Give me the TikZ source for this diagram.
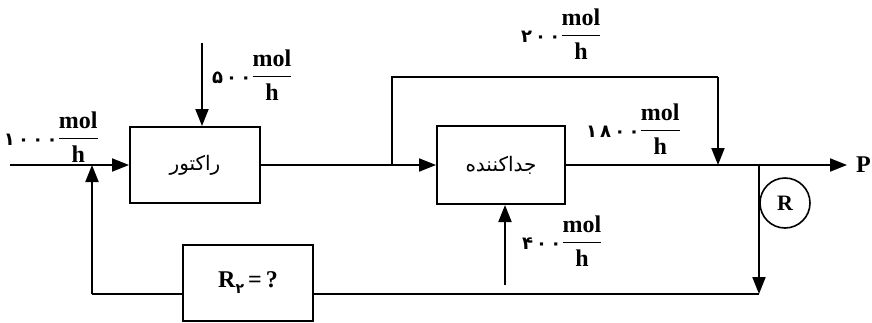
\documentclass[tikz,border=0pt]{standalone}
\usepackage{amsmath}
\usepackage{fontspec}
\setmainfont{Liberation Serif}
\newfontfamily\arabicfont[Script=Arabic]{DejaVu Sans}
\newfontfamily\digfont[Script=Arabic,LetterSpace=18]{DejaVu Sans}
\TeXXeTstate=1
\usetikzlibrary{arrows.meta}
\newcommand{\dig}[1]{{\digfont\fontsize{18}{20}\selectfont #1}}
\newcommand{\rate}[1]{\dig{#1}$\dfrac{\text{mol}}{\text{h}}$}
\begin{document}
\begin{tikzpicture}[x=1pt,y=-1pt,
  line width=2pt,
  blk/.style={draw, line width=2pt, inner sep=0pt},
  flow/.style={-{Triangle[length=17pt,width=13pt]}},
  lbl/.style={inner sep=0pt, font=\fontsize{24}{28}\bfseries\selectfont},
  fa/.style={font=\arabicfont\fontsize{20}{24}\selectfont}]
\useasboundingbox (0,0) rectangle (872,322);

% blocks
\node[blk, fa, minimum width=130pt, minimum height=76pt] (reactor) at (195,165) {\beginR راکتور\endR};
\node[blk, fa, minimum width=128pt, minimum height=78pt] (sep) at (501,165) {\beginR جداکننده\endR};
\node[blk, minimum width=130pt, minimum height=76pt, font=\fontsize{24}{28}\bfseries\selectfont] (r2) at (248,283) {R\raisebox{-6pt}{\arabicfont\fontsize{14}{16}\selectfont ۲}\,=\,?};
\node[draw, circle, minimum size=50pt, inner sep=0pt, line width=1.6pt, font=\fontsize{22}{26}\bfseries\selectfont] (rc) at (785,203) {R};
\node[lbl, anchor=west] (P) at (855,165) {P};

% coordinates
\coordinate (in0) at (10,165);
\coordinate (j1) at (92,165);
\coordinate (j1b) at (92,294);
\coordinate (f5) at (202,43);
\coordinate (b1) at (392,165);
\coordinate (b2) at (392,77);
\coordinate (b3) at (718,77);
\coordinate (b4) at (718,165);
\coordinate (f4) at (505,285);
\coordinate (s1) at (759,165);
\coordinate (s2) at (759,294);
\coordinate (out) at (847,165);

% connectors
\draw[flow] (in0) -- (reactor.west);
\draw[flow] (j1b) -- (j1);
\draw[flow] (f5) -- (f5 |- reactor.north);
\draw[flow] (reactor.east) -- (sep.west);
\draw (b1) -- (b2) -- (b3);
\draw[flow] (b3) -- (b4);
\draw[flow] (f4) -- (f4 |- sep.south);
\draw[flow] (sep.east) -- (out);
\draw[flow] (s1) -- (s2);
\draw (s2) -- (s2 -| r2.east);
\draw (r2.west |- j1b) -- (j1b);

% labels
\node[lbl, anchor=west] (l1000) at (3,137) {\rate{۱۰۰۰}};
\node[lbl, anchor=west] (l500) at (211,75) {\rate{۵۰۰}};
\node[lbl, anchor=west] (l200) at (520,34) {\rate{۲۰۰}};
\node[lbl, anchor=west] (l1800) at (585,129) {\rate{۱۸۰۰}};
\node[lbl, anchor=west] (l400) at (521,241) {\rate{۴۰۰}};
\end{tikzpicture}
\end{document}
